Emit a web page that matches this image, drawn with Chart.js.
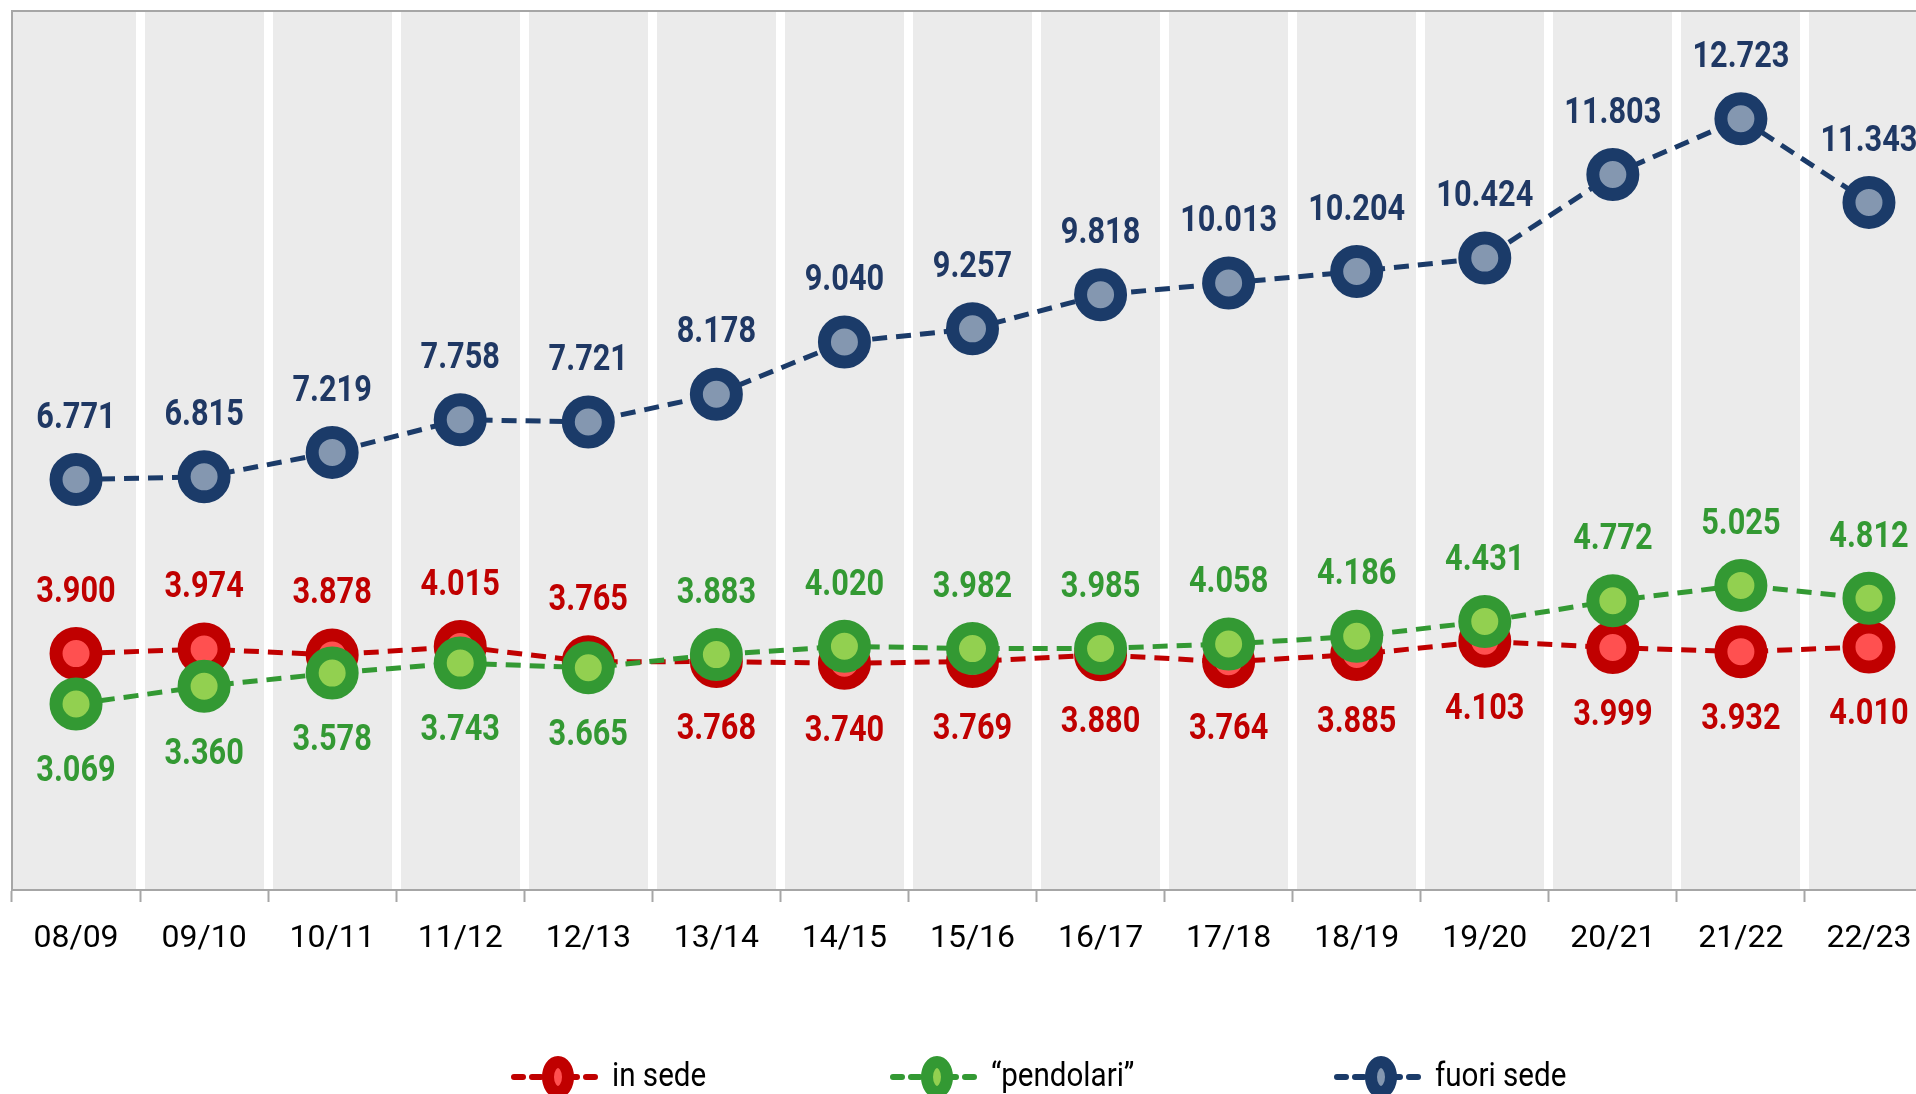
<!DOCTYPE html>
<html>
<head>
<meta charset="utf-8">
<script src="https://cdn.jsdelivr.net/npm/chart.js@4.4.1/dist/chart.umd.min.js"></script>
<style>
  html, body { margin: 0; padding: 0; background: #fff; overflow: hidden; }
  #wrap { width: 1940px; height: 1094px; }
</style>
</head>
<body>
<div id="wrap"><canvas id="chart" width="1940" height="1094"></canvas></div>
<script>
// anni accademici
const labels = ['08/09', '09/10', '10/11', '11/12', '12/13', '13/14', '14/15', '15/16',
                '16/17', '17/18', '18/19', '19/20', '20/21', '21/22', '22/23'];

const inSede = [3900, 3974, 3878, 4015, 3765, 3768, 3740, 3769, 3880, 3764, 3885, 4103, 3999, 3932, 4010];
const pendolari = [3069, 3360, 3578, 3743, 3665, 3883, 4020, 3982, 3985, 4058, 4186, 4431, 4772, 5025, 4812];
const fuoriSede = [6771, 6815, 7219, 7758, 7721, 8178, 9040, 9257, 9818, 10013, 10204, 10424, 11803, 12723, 11343];

const seriesNames = ['in sede', '\u201Cpendolari\u201D', 'fuori sede'];

const FONT = '"Roboto", "Noto Sans", sans-serif';

// separatore delle migliaia all'italiana
function fmt(v) {
    return String(v).replace(/\B(?=(\d{3})+(?!\d))/g, '.');
}

// testo un po' stretto, come il Calibri dell'originale
function narrowText(ctx, text, x, y, squeeze) {
    ctx.save();
    ctx.translate(x, y);
    ctx.scale(squeeze, 1);
    ctx.fillText(text, 0, 0);
    ctx.restore();
}

// sfondo grigio dell'area del grafico + bordi
const areaBg = {
    id: 'areaBg',
    beforeDraw(chart) {
        const { ctx, chartArea: a } = chart;
        ctx.save();
        ctx.fillStyle = '#EBEBEB';
        ctx.fillRect(a.left, a.top, a.right - a.left, a.bottom - a.top);
        ctx.restore();
    },
    beforeDatasetsDraw(chart) {
        const { ctx, chartArea: a } = chart;
        ctx.save();
        ctx.strokeStyle = '#A6A6A6';
        ctx.lineWidth = 2;
        ctx.beginPath();
        ctx.moveTo(a.left, a.bottom);
        ctx.lineTo(a.left, a.top);
        ctx.lineTo(a.right, a.top);
        ctx.stroke();
        ctx.restore();
    }
};

// etichette dei valori sopra/sotto i punti
const valueLabels = {
    id: 'valueLabels',
    afterDatasetsDraw(chart) {
        const { ctx } = chart;
        ctx.save();
        ctx.font = 'bold 37px ' + FONT;
        ctx.textAlign = 'center';
        ctx.textBaseline = 'middle';
        chart.data.datasets.forEach((ds, di) => {
            const meta = chart.getDatasetMeta(di);
            meta.data.forEach((pt, i) => {
                let above = true;
                if (di === 0) above = inSede[i] >= pendolari[i];
                if (di === 1) above = pendolari[i] > inSede[i];
                ctx.fillStyle = ds.labelColor;
                narrowText(ctx, fmt(ds.data[i]), pt.x, pt.y + (above ? -61 : 68), 0.83);
            });
        });
        ctx.restore();
    }
};

// legenda in basso: linea tratteggiata + marcatore + testo
const bottomLegend = {
    id: 'bottomLegend',
    afterDraw(chart) {
        const { ctx } = chart;
        const centers = [558, 937, 1381];
        const y = 1077;
        ctx.save();
        chart.data.datasets.forEach((ds, di) => {
            const cx = centers[di];
            ctx.strokeStyle = ds.borderColor;
            ctx.lineWidth = 6;
            ctx.lineCap = 'round';
            ctx.setLineDash([9, 9]);
            ctx.beginPath();
            ctx.moveTo(cx - 44, y);
            ctx.lineTo(cx + 44, y);
            ctx.stroke();
            ctx.setLineDash([]);
            ctx.beginPath();
            ctx.ellipse(cx, y, 10, 15, 0, 0, Math.PI * 2);
            ctx.fillStyle = ds.pointBackgroundColor;
            ctx.fill();
            ctx.lineWidth = 12;
            ctx.strokeStyle = ds.pointBorderColor;
            ctx.stroke();
            ctx.fillStyle = '#000';
            ctx.font = '34px ' + FONT;
            ctx.textAlign = 'left';
            ctx.textBaseline = 'middle';
            narrowText(ctx, ds.label, cx + 54, y, 0.87);
        });
        ctx.restore();
    }
};

function series(label, data, ring, fill, text, order) {
    return {
        label: label,
        data: data,
        borderColor: ring,
        borderWidth: 5,
        borderDash: [15, 9],
        pointRadius: 20,
        pointHoverRadius: 20,
        pointBorderWidth: 13,
        pointBorderColor: ring,
        pointBackgroundColor: fill,
        labelColor: text,
        tension: 0,
        order: order,
        clip: false
    };
}

new Chart(document.getElementById('chart'), {
    type: 'line',
    data: {
        labels: labels,
        datasets: [
            series(seriesNames[0], inSede, '#C00000', '#FF5050', '#C00000', 3),
            series(seriesNames[1], pendolari, '#339933', '#92D050', '#339933', 2),
            series(seriesNames[2], fuoriSede, '#1B3B69', '#8497B0', '#1F3864', 1)
        ]
    },
    options: {
        responsive: false,
        animation: false,
        layout: { autoPadding: false, padding: { left: 12, top: 11, right: 7, bottom: 0 } },
        plugins: {
            legend: { display: false },
            tooltip: { enabled: false }
        },
        scales: {
            x: {
                offset: true,
                grid: {
                    offset: true,
                    color: ctx => ctx.index === 0 ? 'rgba(0,0,0,0)' : '#FFFFFF',
                    lineWidth: 9,
                    tickColor: '#A6A6A6',
                    tickWidth: 2,
                    tickLength: 12
                },
                border: { display: true, color: '#A6A6A6', width: 2 },
                ticks: {
                    color: '#000',
                    font: { family: FONT, size: 32 },
                    padding: 18,
                    maxRotation: 0,
                    autoSkip: false
                },
                afterFit(scale) {
                    scale.height = 204;
                    scale.paddingLeft = 0;
                    scale.paddingRight = 0;
                }
            },
            y: {
                display: false,
                min: 0,
                max: 14500
            }
        }
    },
    plugins: [areaBg, valueLabels, bottomLegend]
});
</script>
</body>
</html>
